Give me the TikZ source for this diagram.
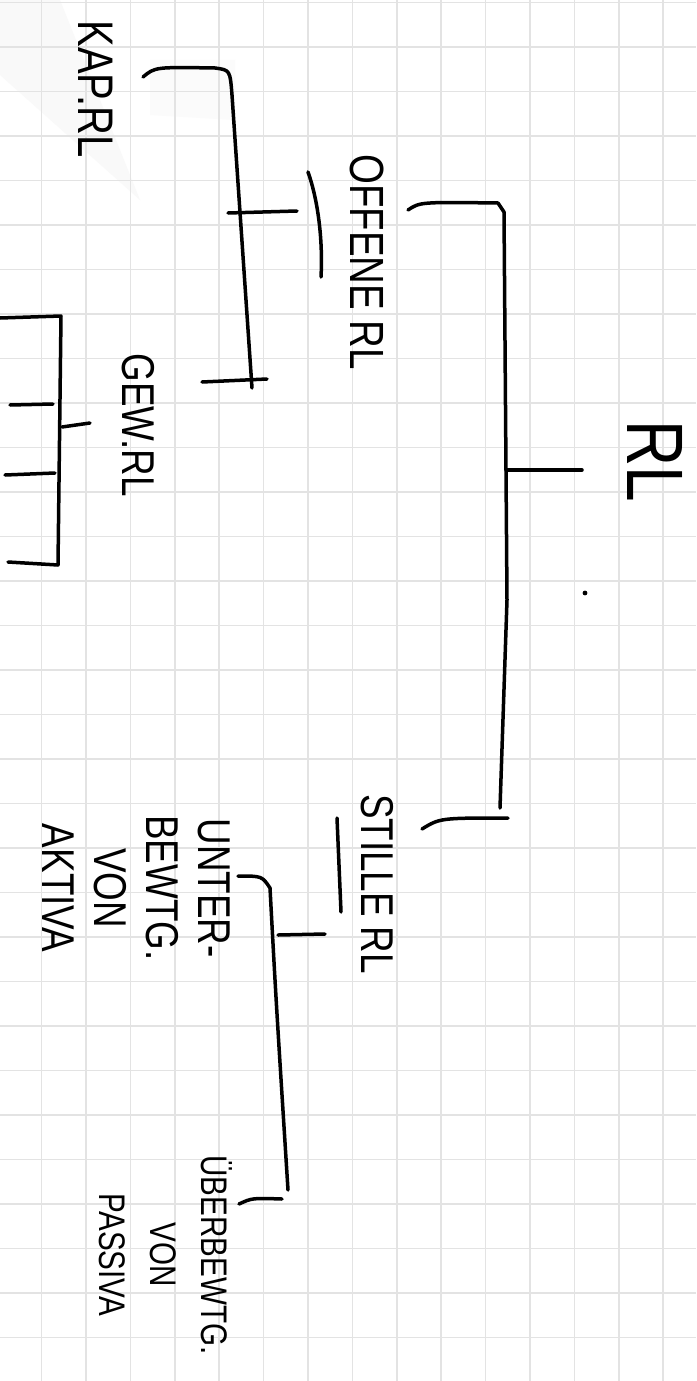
\documentclass[tikz,border=0pt]{standalone}
\usepackage{fontspec}
\setmainfont{Liberation Sans}[FakeStretch=0.8]
\tikzset{
	pen/.style={line width=3.5pt, line cap=round, line join=round},
	lbl/.style={rotate=-90, inner sep=0pt, align=center, font=\fontsize{46}{52}\selectfont},
	gridline/.style={line width=1.6pt, gray!22}
}
\begin{document}
\begin{tikzpicture}[x=1pt,y=-1pt]
	\useasboundingbox (0,0) rectangle (696,1381);
	\fill [white] (0,0) rectangle (696,1381);
	\fill [gray!5] (0,0) -- (60,0) -- (140,200) -- (0,75) -- cycle;
	\fill [gray!3] (150,60) -- (235,60) -- (235,120) -- (150,115) -- cycle;
	\foreach \i in {1,...,15} \draw [gridline] ({-2.8+44.4*\i},0) -- ({-2.8+44.4*\i},1381);
	\foreach \j in {0,...,30} \draw [gridline] (0,{2.5+44.5*\j}) -- (696,{2.5+44.5*\j});

	\node [lbl, font=\fontsize{80}{86}\selectfont] (rl) at (655,461) {RL};
	\node [lbl, font=\fontsize{48}{52}\selectfont] (offene) at (367,262) {OFFENE RL};
	\node [lbl, font=\fontsize{50}{52}\selectfont] (kap) at (96,89) {KAP.RL};
	\node [lbl] (gew) at (138,425) {GEW.RL};
	\node [lbl] (stille) at (377,884) {STILLE RL};
	\node [lbl] (aktiva) at (136,888) {UNTER-\\BEWTG.\\VON\\AKTIVA};
	\node [lbl, font=\fontsize{37}{51}\selectfont] (passiva) at (166,1255) {ÜBERBEWTG.\\VON\\PASSIVA};

	\coordinate (rlstem) at (582,470);
	\coordinate (rljoin) at (506,470);
	\coordinate (offarm) at (408,210);
	\coordinate (stillearm) at (422,829);
	\draw [pen] (rlstem) -- (rljoin);
	\fill (585,593) circle (2.4);
	\draw [pen] (offarm) .. controls (420,202) .. (498,203) -- (504,212) -- (507,600) -- (500,808);
	\draw [pen] (stillearm) .. controls (440,818) .. (508,818);

	\coordinate (offline1) at (308,172);
	\coordinate (offline2) at (321,277);
	\draw [pen] (offline1) .. controls (318,200) and (323,240) .. (offline2);
	\coordinate (offstem) at (297,211);
	\coordinate (offjoin) at (228,213);
	\draw [pen] (offstem) -- (offjoin);
	\coordinate (kaparm) at (143,77);
	\coordinate (gewarm) at (202,382);
	\draw [pen] (kaparm) .. controls (155,67) .. (215,68) .. controls (230,70) .. (232,95) -- (252,388);
	\draw [pen] (gewarm) -- (267,379);

	\coordinate (gewstem) at (90,423);
	\coordinate (gewjoin) at (62,427);
	\draw [pen] (gewstem) -- (gewjoin);
	\draw [pen] (0,318) -- (61,316) -- (58,565) -- (8,562);
	\draw [pen] (10,405) -- (53,404);
	\draw [pen] (5,475) -- (55,473);

	\coordinate (stline1) at (337,818);
	\coordinate (stline2) at (341,912);
	\draw [pen] (stline1) -- (stline2);
	\coordinate (ststem) at (325,934);
	\coordinate (stjoin) at (278,935);
	\draw [pen] (ststem) -- (stjoin);
	\coordinate (aktarm) at (238,876);
	\coordinate (pasarm) at (239,1204);
	\draw [pen] (aktarm) .. controls (262,876) .. (270,888) .. controls (276,1000) .. (288,1190);
	\draw [pen] (pasarm) .. controls (252,1198) .. (282,1199);
\end{tikzpicture}
\end{document}
